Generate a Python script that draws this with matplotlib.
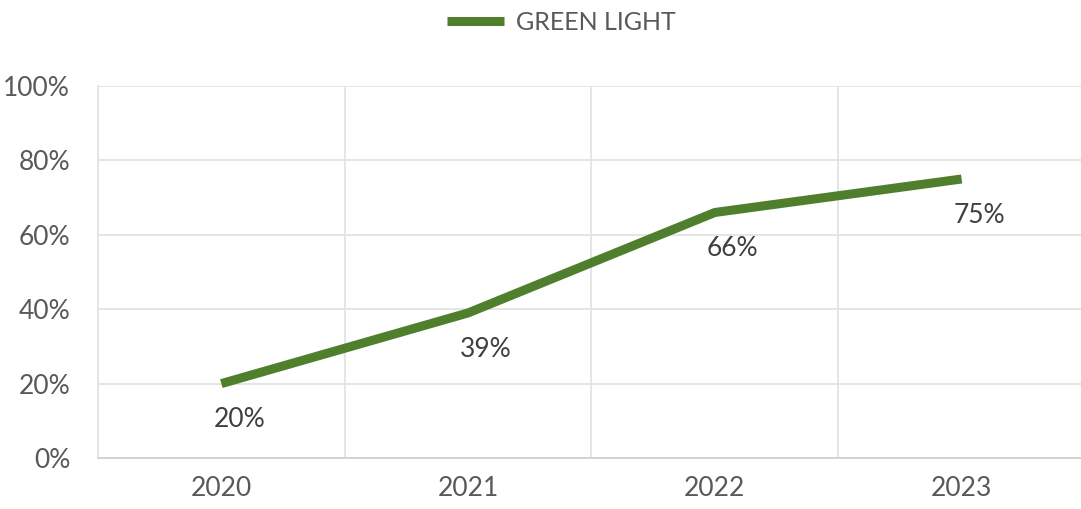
import matplotlib
matplotlib.use("Agg")
import matplotlib.pyplot as plt
from matplotlib.ticker import FixedLocator, PercentFormatter

# Data
years = ["2020", "2021", "2022", "2023"]
green_light = [20, 39, 66, 75]
series_name = "GREEN LIGHT"

TEXT = "#595959"
LABEL = "#404040"
GRID = "#e3e3e3"
GREEN = "#4f7f2c"

plt.rcParams["font.family"] = ["Lato", "DejaVu Sans"]

fig = plt.figure(figsize=(10.81, 5.09), dpi=100)
ax = fig.add_axes([98 / 1081, 1 - 458 / 509, (1085 - 98) / 1081, (458 - 86) / 509])

x = list(range(len(years)))
line, = ax.plot(x, green_light, color=GREEN, linewidth=6.5,
                solid_capstyle="butt", label=series_name)

for xi, v in zip(x, green_light):
    ax.annotate(f"{v}%", (xi, v), xytext=(13, -26), textcoords="offset points",
                ha="center", va="center", fontsize=19, color=LABEL)

ax.set_xlim(-0.5, len(years) - 0.5)
ax.set_ylim(0, 100)
ax.set_yticks(range(0, 101, 20))
ax.yaxis.set_major_formatter(PercentFormatter(decimals=0))
ax.set_xticks(x)
ax.set_xticklabels(years)
ax.xaxis.set_minor_locator(FixedLocator([0.5, 1.5, 2.5]))

ax.grid(axis="y", which="major", color=GRID, linewidth=1.3)
ax.grid(axis="x", which="minor", color=GRID, linewidth=1.3)
ax.set_axisbelow(True)

for side in ["top", "right"]:
    ax.spines[side].set_visible(False)
ax.spines["left"].set_color(GRID)
ax.spines["left"].set_linewidth(1.3)
ax.spines["bottom"].set_color("#d0d0d0")
ax.spines["bottom"].set_linewidth(1.3)

ax.tick_params(axis="both", which="both", length=0, labelsize=19, labelcolor=TEXT)
ax.tick_params(axis="y", pad=20)
ax.tick_params(axis="x", pad=13)

fig.legend(handles=[line], loc="center", bbox_to_anchor=(561 / 1081, 1 - 22 / 509),
           frameon=False, fontsize=18, labelcolor=TEXT, handlelength=2.3,
           handletextpad=0.45)

fig.savefig("out.png", dpi=100)
